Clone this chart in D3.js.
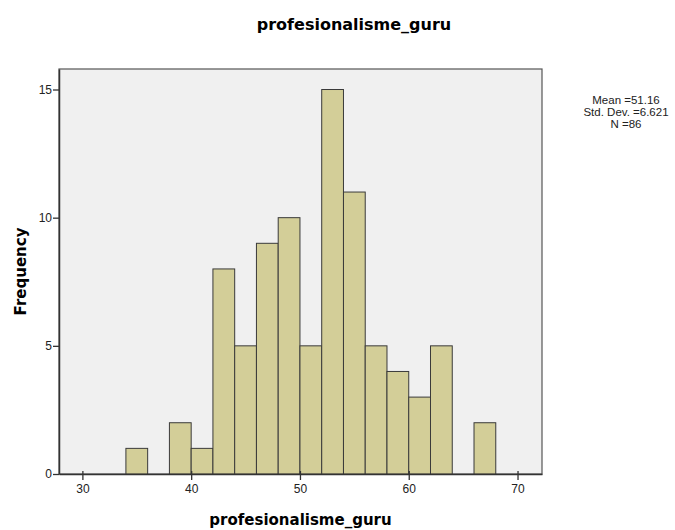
<html>
<head>
<meta charset="utf-8">
<style>
  body { margin: 0; background: #fff; }
  text { font-family: "Liberation Sans", Arial, sans-serif; }
  .lbl { font-family: "DejaVu Sans", Verdana, sans-serif; font-weight: bold; }
</style>
</head>
<body>
<div id="chart"></div>
<script src="https://d3js.org/d3.v7.min.js"></script>
<script>
'use strict';

// histogram bins (lower edge, width 2) and counts
var binStarts = [34, 36, 38, 40, 42, 44, 46, 48, 50, 52, 54, 56, 58, 60, 62, 64, 66];
var counts    = [ 1,  0,  2,  1,  8,  5,  9, 10,  5, 15, 11,  5,  4,  3,  5,  0,  2];
var binWidth = 2;
var xTicks = [30, 40, 50, 60, 70];
var yTicks = [0, 5, 10, 15];
var statsLines = ['Mean =51.16', 'Std. Dev. =6.621', 'N =86'];

var W = 675, H = 530;
var pLeft = 59, pRight = 542, pTop = 69, pBottom = 474;

var svg = d3.select('#chart').append('svg')
  .attr('width', W).attr('height', H);

var x = d3.scaleLinear().domain([27.85, 72.25]).range([pLeft, pRight]);
var y = d3.scaleLinear().domain([0, 15.8]).range([pBottom, pTop]);

// plot background
svg.append('rect')
  .attr('x', pLeft).attr('y', pTop)
  .attr('width', pRight - pLeft).attr('height', pBottom - pTop)
  .attr('fill', '#f0f0f0')
  .attr('stroke', '#555').attr('stroke-width', 1.2);

// bars
svg.append('g').selectAll('rect')
  .data(binStarts.map(function (b, i) { return {x0: b, n: counts[i]}; }).filter(function (d) { return d.n > 0; }))
  .enter().append('rect')
  .attr('x', function (d) { return x(d.x0); })
  .attr('y', function (d) { return y(d.n); })
  .attr('width', function (d) { return x(d.x0 + binWidth) - x(d.x0); })
  .attr('height', function (d) { return y(0) - y(d.n); })
  .attr('fill', '#d3ce98')
  .attr('stroke', '#3a3a3a')
  .attr('stroke-width', 1);

// axes
var xAxis = svg.append('g')
  .attr('transform', 'translate(0,' + pBottom + ')')
  .call(d3.axisBottom(x).tickValues(xTicks).tickSize(6).tickSizeOuter(0).tickPadding(4));
var yAxis = svg.append('g')
  .attr('transform', 'translate(' + pLeft + ',0)')
  .call(d3.axisLeft(y).tickValues(yTicks).tickSize(6).tickSizeOuter(0).tickPadding(1));

[xAxis, yAxis].forEach(function (a) {
  a.select('.domain').attr('stroke', '#333').attr('stroke-width', 1.5);
  a.selectAll('.tick line').attr('stroke', '#333').attr('stroke-width', 1.3);
  a.selectAll('.tick text').attr('fill', '#222')
    .style('font-family', '"Liberation Sans", Arial, sans-serif').style('font-size', '12px');
});
// x ticks straddle the axis line slightly
xAxis.selectAll('.tick line').attr('y1', -3);

// titles
svg.append('text').attr('class', 'lbl')
  .attr('x', 354).attr('y', 30)
  .attr('text-anchor', 'middle')
  .style('font-size', '16px')
  .text('profesionalisme_guru');

svg.append('text').attr('class', 'lbl')
  .attr('x', (pLeft + pRight) / 2).attr('y', 525)
  .attr('text-anchor', 'middle')
  .style('font-size', '15px')
  .text('profesionalisme_guru');

svg.append('text').attr('class', 'lbl')
  .attr('transform', 'translate(26,' + ((pTop + pBottom) / 2) + ') rotate(-90)')
  .attr('text-anchor', 'middle')
  .style('font-size', '15px')
  .text('Frequency');

// statistics box
svg.append('g').selectAll('text')
  .data(statsLines)
  .enter().append('text')
  .attr('x', 626)
  .attr('y', function (d, i) { return 104 + i * 12; })
  .attr('text-anchor', 'middle')
  .style('font-size', '11.5px')
  .attr('fill', '#222')
  .text(function (d) { return d; });
</script>
</body>
</html>
